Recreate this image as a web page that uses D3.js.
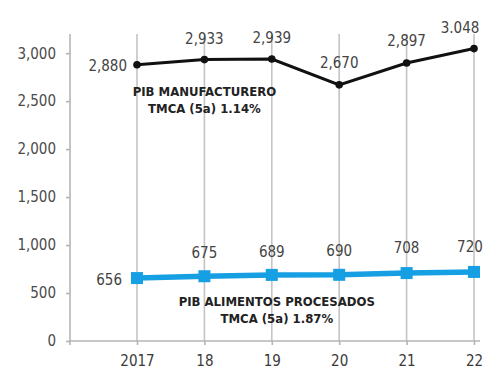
<!DOCTYPE html>
<html>
<head>
<meta charset="utf-8">
<script src="https://cdn.jsdelivr.net/npm/d3@7"></script>
<style>
  body { margin: 0; background: #fff; }
  svg text { font-family: "Liberation Sans Narrow", "DejaVu Sans Condensed", sans-serif; }
</style>
</head>
<body>
<svg id="chart" width="491" height="369"></svg>
<script>
// years on the x axis and their tick labels
var years = [2017, 2018, 2019, 2020, 2021, 2022];
var yearLabels = ['2017', '18', '19', '20', '21', '22'];

// PIB manufacturero (miles de millones)
var manuf = [2880, 2933, 2939, 2670, 2897, 3048];
var manufLabels = ['2,880', '2,933', '2,939', '2,670', '2,897', '3.048'];

// PIB alimentos procesados
var food = [656, 675, 689, 690, 708, 720];
var foodLabels = ['656', '675', '689', '690', '708', '720'];

var yTicks = [0, 500, 1000, 1500, 2000, 2500, 3000];

var svg = d3.select('#chart');

var x = d3.scalePoint().domain(years).range([137, 474]);
var y = d3.scaleLinear().domain([0, 3200]).range([341, 34]);
var fmt = d3.format(',');

// vertical grid at each year
svg.append('g').selectAll('line').data(years).enter().append('line')
  .attr('x1', function(d){ return x(d); }).attr('x2', function(d){ return x(d); })
  .attr('y1', y(3200)).attr('y2', y(0))
  .style('stroke', '#c4c4c4').style('stroke-width', 1.6);

// y axis
var yAxis = svg.append('g').attr('transform', 'translate(70,0)')
  .call(d3.axisLeft(y).tickValues(yTicks).tickFormat(fmt).tickSize(4).tickPadding(10));
yAxis.select('.domain').attr('d', 'M0,' + y(3200) + 'V' + y(0)).style('stroke', '#b5b5b5').style('stroke-width', 1.6);
yAxis.selectAll('.tick line').style('stroke', '#b5b5b5').style('stroke-width', 1.6);
yAxis.selectAll('.tick text').style('font-size', '15px').style('fill', '#4a4a4a');

// x axis
var xAxis = svg.append('g').attr('transform', 'translate(0,' + y(0) + ')')
  .call(d3.axisBottom(x).tickFormat(function(d, i){ return yearLabels[i]; }).tickSize(4).tickPadding(10));
xAxis.select('.domain').attr('d', 'M70,0V4V0H' + 480).style('stroke', '#b5b5b5').style('stroke-width', 1.6);
xAxis.selectAll('.tick line').style('stroke', '#b5b5b5').style('stroke-width', 1.6);
xAxis.selectAll('.tick text').style('font-size', '15px').style('fill', '#3a3a3a');

var line = d3.line().x(function(d, i){ return x(years[i]); }).y(function(d){ return y(d); });

// manufacturing series
svg.append('path').datum(manuf).attr('d', line)
  .style('fill', 'none').style('stroke', '#111').style('stroke-width', 3);
svg.append('g').selectAll('circle').data(manuf).enter().append('circle')
  .attr('cx', function(d, i){ return x(years[i]); })
  .attr('cy', function(d){ return y(d); })
  .attr('r', 3.8).style('fill', '#111');

// label offsets per point: [dx, dy, anchor]
var manufPos = [[-10, 6, 'end'], [0, -16, 'middle'], [0, -16, 'middle'], [0, -17, 'middle'], [0, -17, 'middle'], [-14, -16, 'middle']];
svg.append('g').selectAll('text').data(manuf).enter().append('text')
  .attr('x', function(d, i){ return x(years[i]) + manufPos[i][0]; })
  .attr('y', function(d, i){ return y(d) + manufPos[i][1]; })
  .attr('text-anchor', function(d, i){ return manufPos[i][2]; })
  .style('font-size', '15px').style('fill', '#444')
  .text(function(d, i){ return manufLabels[i]; });

// food series
svg.append('path').datum(food).attr('d', line)
  .style('fill', 'none').style('stroke', '#169fe3').style('stroke-width', 5.5);
svg.append('g').selectAll('rect').data(food).enter().append('rect')
  .attr('x', function(d, i){ return x(years[i]) - 6; })
  .attr('y', function(d){ return y(d) - 6; })
  .attr('width', 12).attr('height', 12).style('fill', '#169fe3');

var foodPos = [[-15, 7, 'end'], [0, -18, 'middle'], [0, -18, 'middle'], [0, -19, 'middle'], [0, -20, 'middle'], [-4, -20, 'middle']];
svg.append('g').selectAll('text').data(food).enter().append('text')
  .attr('x', function(d, i){ return x(years[i]) + foodPos[i][0]; })
  .attr('y', function(d, i){ return y(d) + foodPos[i][1]; })
  .attr('text-anchor', function(d, i){ return foodPos[i][2]; })
  .style('font-size', '15px').style('fill', '#444')
  .text(function(d, i){ return foodLabels[i]; });

// series notes
function note(cx, cy, lines){
  var t = svg.append('text').attr('text-anchor', 'middle')
    .style('font-size', '13px').style('font-weight', 'bold').style('fill', '#222');
  lines.forEach(function(s, i){
    t.append('tspan').attr('x', cx).attr('y', cy + i * 17).text(s);
  });
}
note(x(2018), 96, ['PIB MANUFACTURERO', 'TMCA (5a) 1.14%']);
note(x(2019) + 5, 306, ['PIB ALIMENTOS PROCESADOS', 'TMCA (5a) 1.87%']);
</script>
</body>
</html>
